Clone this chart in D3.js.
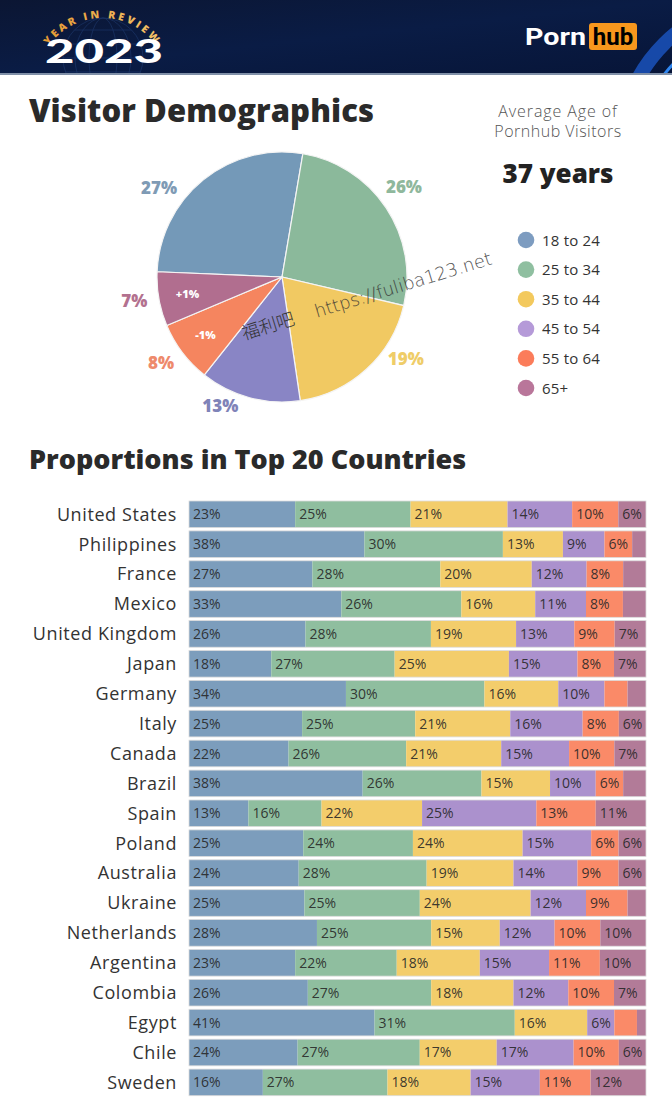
<!DOCTYPE html>
<html><head><meta charset="utf-8">
<script src="https://cdn.jsdelivr.net/npm/d3@7/dist/d3.min.js"></script>
<style>
html,body{margin:0;padding:0;background:#fff;}
svg{display:block;font-family:"Open Sans","Noto Sans",sans-serif;}
</style></head>
<body>
<svg id="chart" width="672" height="1118"></svg>
<script>
// ---------- DATA ----------
const ageGroups = ["18 to 24","25 to 34","35 to 44","45 to 54","55 to 64","65+"];
const pieShares = [27,26,19,13,8,7];
const pieChanges = ["","","","","-1%","+1%"];
const averageAge = "37 years";

const countries = ["United States","Philippines","France","Mexico","United Kingdom","Japan","Germany","Italy","Canada","Brazil","Spain","Poland","Australia","Ukraine","Netherlands","Argentina","Colombia","Egypt","Chile","Sweden"];
const s18to24 = [23,38,27,33,26,18,34,25,22,38,13,25,24,25,28,23,26,41,24,16];
const s25to34 = [25,30,28,26,28,27,30,25,26,26,16,24,28,25,25,22,27,31,27,27];
const s35to44 = [21,13,20,16,19,25,16,21,21,15,22,24,19,24,15,18,18,16,17,18];
const s45to54 = [14,9,12,11,13,15,10,16,15,10,25,15,14,12,12,15,12,6,17,15];
const s55to64 = [10,6,8,8,9,8,5,8,10,6,13,6,9,9,10,11,10,5,10,11];
const s65plus = [6,3,5,5,7,7,4,6,7,5,11,6,6,4,10,10,7,2,6,12];

// ---------- STYLE ----------
const pieColors = ["#7499b8","#8bb99b","#f1c962","#8985c5","#f5855f","#b16e8f"];
const pieLabelColors = ["#7f9bb5","#8fb89c","#efcd68","#7f83b8","#ee8a6c","#b3718f"];
const legendColors = ["#7d9cc0","#8fbfa0","#f3c95d","#b59ad8","#fb7c5a","#b9769a"];
const barColors = ["#7c9dbc","#8fbe9f","#f3cd6b","#ab91cd","#fa8a68","#b27b98"];
const pieLabelNudgeDeg = [-16,-2,-13,10,1,0];
const pieLabelRadius = [150,150,150,146,150,150];

const svg = d3.select("#chart");

// ---------- HEADER ----------
const defs = svg.append("defs");
const hg = defs.append("linearGradient").attr("id","hdr").attr("x1","0").attr("x2","1").attr("y1","0").attr("y2","1");
hg.append("stop").attr("offset","0").attr("stop-color","#0b1633");
hg.append("stop").attr("offset","0.5").attr("stop-color","#0a1c45");
hg.append("stop").attr("offset","1").attr("stop-color","#071538");
defs.append("clipPath").attr("id","hclip").append("rect").attr("width",672).attr("height",74);
const gold = defs.append("linearGradient").attr("id","gold").attr("x1","0").attr("x2","1");
gold.append("stop").attr("offset","0").attr("stop-color","#e49a33");
gold.append("stop").attr("offset","1").attr("stop-color","#f4c46a");

const hdr = svg.append("g").attr("clip-path","url(#hclip)");
hdr.append("rect").attr("width",672).attr("height",74).attr("fill","url(#hdr)");
// globe wireframe
const gcx = 103, gcy = 58, gr = 40;
const globe = hdr.append("g").attr("stroke","#2b4f8f").attr("fill","none").attr("stroke-width",0.7).attr("opacity",0.5);
globe.append("circle").attr("cx",gcx).attr("cy",gcy).attr("r",gr);
[14,28].forEach(rx=>globe.append("ellipse").attr("cx",gcx).attr("cy",gcy).attr("rx",rx).attr("ry",gr));
[-28,-14,0,14,28].forEach(dy=>{const w=Math.sqrt(gr*gr-dy*dy);globe.append("line").attr("x1",gcx-w).attr("x2",gcx+w).attr("y1",gcy+dy).attr("y2",gcy+dy);});
// curved YEAR IN REVIEW
const arcR = 66, acx = 102.5, acy = 84;
const a0 = -145*Math.PI/180, a1 = -35*Math.PI/180;
defs.append("path").attr("id","arcPath")
  .attr("d",`M${acx+arcR*Math.cos(a0)},${acy+arcR*Math.sin(a0)} A${arcR},${arcR} 0 0 1 ${acx+arcR*Math.cos(a1)},${acy+arcR*Math.sin(a1)}`);
hdr.append("text").attr("font-size",10.5).attr("font-weight",800).attr("fill","url(#gold)").attr("letter-spacing",2.8)
  .append("textPath").attr("href","#arcPath").attr("startOffset","50%").attr("text-anchor","middle").text("YEAR IN REVIEW");
hdr.append("text").attr("x",45).attr("y",63).attr("font-family","Lato, sans-serif")
  .attr("font-size",33).attr("font-weight",900).attr("fill","#ffffff")
  .attr("textLength",118).attr("lengthAdjust","spacingAndGlyphs").text("2023");
// swoosh
const sw = hdr.append("g").attr("fill","none");
sw.append("circle").attr("cx",770).attr("cy",150).attr("r",150).attr("stroke","#1b56c4").attr("stroke-width",14).attr("opacity",0.8);
sw.append("circle").attr("cx",775).attr("cy",160).attr("r",140).attr("stroke","#2f86f0").attr("stroke-width",3);
sw.append("circle").attr("cx",780).attr("cy",170).attr("r",128).attr("stroke","#4aa0ff").attr("stroke-width",1.5).attr("opacity",0.8);
// logo
hdr.append("text").attr("x",525).attr("y",45).attr("font-family","Roboto, Arial, sans-serif").attr("font-size",24).attr("font-weight",700).attr("fill","#fff")
  .attr("textLength",61).attr("lengthAdjust","spacingAndGlyphs").text("Porn");
hdr.append("rect").attr("x",589).attr("y",23).attr("width",48).attr("height",27).attr("rx",3).attr("fill","#f7971d");
hdr.append("text").attr("x",613).attr("y",45).attr("text-anchor","middle").attr("font-family","Roboto, Arial, sans-serif").attr("font-size",24).attr("font-weight",700).attr("fill","#000").text("hub");
svg.append("rect").attr("y",73).attr("width",672).attr("height",2).attr("fill","#8090a8");

// ---------- TITLES ----------
svg.append("text").attr("x",29).attr("y",122).attr("font-size",31).attr("font-weight",800).attr("fill","#2a2a2a").attr("letter-spacing",0.1).text("Visitor Demographics");
svg.append("text").attr("x",29).attr("y",469).attr("font-size",27).attr("font-weight",800).attr("fill","#2a2a2a").attr("letter-spacing",0).text("Proportions in Top 20 Countries");

// Average age block
svg.append("text").attr("x",558).attr("y",117).attr("text-anchor","middle").attr("font-size",16).attr("font-weight",300).attr("letter-spacing",0.9).attr("fill","#555").text("Average Age of");
svg.append("text").attr("x",558).attr("y",137).attr("text-anchor","middle").attr("font-size",16).attr("font-weight",300).attr("letter-spacing",0.5).attr("fill","#555").text("Pornhub Visitors");
svg.append("text").attr("x",558).attr("y",183).attr("text-anchor","middle").attr("font-size",26).attr("font-weight",800).attr("fill","#222").text(averageAge);

// ---------- PIE ----------
const pcx = 282, pcy = 277, pr = 125;
const pie = d3.pie().sort(null).value(d=>d)
  .startAngle(-87.6*Math.PI/180).endAngle(-87.6*Math.PI/180 + 2*Math.PI);
const arcs = pie(pieShares);
const arc = d3.arc().innerRadius(0).outerRadius(pr);
const inner = d3.arc().innerRadius(96).outerRadius(96);
const pg = svg.append("g").attr("transform",`translate(${pcx},${pcy})`);
pg.selectAll("path.slice").data(arcs).join("path").attr("class","slice")
  .attr("d",arc).attr("fill",(d,i)=>pieColors[i]).attr("stroke","#f4f4f4").attr("stroke-width",1.2);
pg.selectAll("text.out").data(arcs).join("text").attr("class","out")
  .each(function(d,i){
    const a = (d.startAngle+d.endAngle)/2 + pieLabelNudgeDeg[i]*Math.PI/180;
    const R = pieLabelRadius[i];
    d3.select(this).attr("x",R*Math.sin(a)).attr("y",-R*Math.cos(a)+3);
  })
  .attr("text-anchor","middle").attr("font-size",17).attr("font-weight",800)
  .attr("fill",(d,i)=>pieLabelColors[i]).text(d=>d.data+"%");
pg.selectAll("text.chg").data(arcs.filter((d,i)=>pieChanges[i])).join("text").attr("class","chg")
  .attr("transform",d=>{const c=inner.centroid(d);return `translate(${c[0]},${c[1]+4})`;})
  .attr("text-anchor","middle").attr("font-size",11).attr("font-weight",800).attr("fill","#fff")
  .text(d=>pieChanges[d.index]);

// watermark
const wm = svg.append("g").attr("transform","translate(244,340) rotate(-17)").attr("fill","#333");
wm.append("text").attr("x",0).attr("y",0).attr("font-size",18).attr("font-family","'Noto Sans CJK SC',sans-serif").attr("font-weight",300).text("福利吧");
wm.append("text").attr("x",76).attr("y",0).attr("font-size",18).attr("font-family","'DejaVu Sans',sans-serif").attr("font-weight",300).attr("opacity",0.85).text("https://fuliba123.net");

// ---------- LEGEND ----------
const lg = svg.append("g");
const ly = d3.scalePoint().domain(ageGroups).range([240,388]);
lg.selectAll("circle").data(ageGroups).join("circle").attr("cx",526).attr("cy",d=>ly(d)).attr("r",8.3).attr("fill",(d,i)=>legendColors[i]);
lg.selectAll("text").data(ageGroups).join("text").attr("x",542).attr("y",d=>ly(d)+5.5).attr("font-size",15).attr("letter-spacing",0.2).attr("fill","#333").text(d=>d);

// ---------- STACKED BARS ----------
const seriesArrays = [s18to24,s25to34,s35to44,s45to54,s55to64,s65plus];
const rows = countries.map((c,i)=>{const o={country:c}; ageGroups.forEach((g,k)=>o[g]=seriesArrays[k][i]); return o;});
const stack = d3.stack().keys(ageGroups).offset(d3.stackOffsetExpand);
const series = stack(rows);
const x = d3.scaleLinear().domain([0,1]).range([189,646]);
const y = d3.scaleBand().domain(countries).range([501,1095.7]).paddingInner(0.11).paddingOuter(0);

const bg = svg.append("g");
series.forEach((s,k)=>{
  const g = bg.append("g");
  g.selectAll("rect").data(s).join("rect")
    .attr("x",d=>x(d[0])).attr("width",d=>x(d[1])-x(d[0]))
    .attr("y",d=>y(d.data.country)).attr("height",y.bandwidth()).attr("fill",barColors[k]);
  g.selectAll("text").data(s.filter(d=>d.data[s.key]>=6)).join("text")
    .attr("x",d=>x(d[0])+4).attr("y",d=>y(d.data.country)+y.bandwidth()/2+5)
    .attr("font-size",14).attr("fill","#262626").attr("fill-opacity",0.9).text(d=>d.data[s.key]+"%");
});
bg.selectAll("rect.border").data(countries).join("rect").attr("class","border")
  .attr("x",x(0)).attr("width",x(1)-x(0)).attr("y",d=>y(d)).attr("height",y.bandwidth())
  .attr("fill","none").attr("stroke","#dcdcdc").attr("stroke-width",0.8);

// country axis
const yAxis = d3.axisLeft(y).tickSize(0).tickPadding(0);
const ax = svg.append("g").attr("transform","translate(177,0)").call(yAxis);
ax.select(".domain").remove();
ax.selectAll("text").attr("font-size",18).attr("letter-spacing",0.6).attr("fill","#333").attr("font-family","'Open Sans',sans-serif").attr("dy","0.35em");
</script>
</body></html>
